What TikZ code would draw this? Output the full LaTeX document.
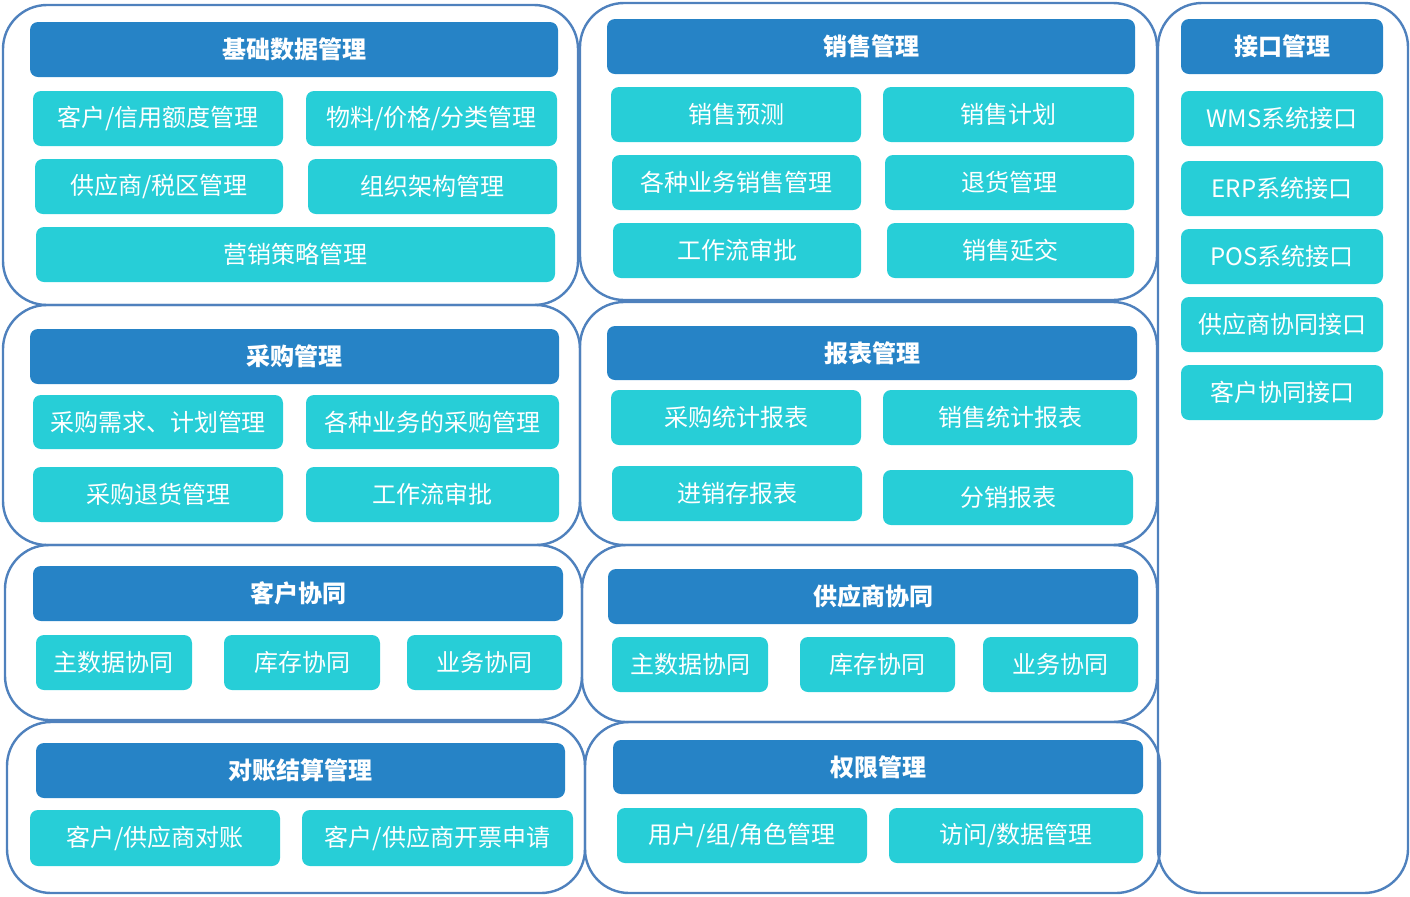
\documentclass[tikz,border=0pt]{standalone}
\usepackage{fontspec}
\setmainfont{Noto Sans CJK SC}
\usepackage{xcolor}
\usepackage{tikz}

\definecolor{frameblue}{HTML}{4F81BD}
\definecolor{headblue}{HTML}{2683C6}
\definecolor{itemcyan}{HTML}{27CED7}

\begin{document}
\begin{tikzpicture}[
  x=0.5pt, y=-0.5pt,
  sz/.style 2 args={minimum width=#1*0.5pt, minimum height=#2*0.5pt},
  panel/.style={draw=frameblue, line width=1.2pt, rounded corners=22pt, inner sep=0pt},
  head/.style={fill=headblue, rounded corners=4pt, text=white, font=\fontsize{12}{14}\selectfont\bfseries, inner sep=0pt},
  item/.style={fill=itemcyan, rounded corners=4pt, text=white, font=\fontsize{12}{14}\selectfont, inner sep=0pt}
]
\useasboundingbox (0,0) rectangle (1410,896);

% outer frames
\node[panel, sz={575}{300}] (base) at (290.5,155) {};
\node[panel, sz={577}{297}] (sale) at (868.5,151.5) {};
\node[panel, sz={250}{890}] (intf) at (1283,448) {};
\node[panel, sz={577}{240}] (purch) at (291.5,425) {};
\node[panel, sz={577}{243}] (report) at (868.5,423.5) {};
\node[panel, sz={577}{175}] (cust) at (293.5,632.5) {};
\node[panel, sz={575}{177}] (supp) at (869.5,633.5) {};
\node[panel, sz={578}{171}] (settle) at (296,807.5) {};
\node[panel, sz={575}{171}] (perm) at (872.5,807.5) {};

% 基础数据管理
\node[head, sz={528}{55}] (basehd) at (294,49.5) {基础数据管理};
\node[item, sz={250}{55}] (base1) at (158,118.5) {客户/信用额度管理};
\node[item, sz={251}{55}] (base2) at (431.5,118.5) {物料/价格/分类管理};
\node[item, sz={248}{55}] (base3) at (159,186.5) {供应商/税区管理};
\node[item, sz={249}{55}] (base4) at (432.5,186.5) {组织架构管理};
\node[item, sz={519}{55}] (base5) at (295.5,254.5) {营销策略管理};

% 销售管理
\node[head, sz={528}{55}] (salehd) at (871,46.5) {销售管理};
\node[item, sz={250}{55}] (sale1) at (736,114.5) {销售预测};
\node[item, sz={251}{55}] (sale2) at (1008.5,114.5) {销售计划};
\node[item, sz={249}{55}] (sale3) at (736.5,182.5) {各种业务销售管理};
\node[item, sz={249}{55}] (sale4) at (1009.5,182.5) {退货管理};
\node[item, sz={248}{55}] (sale5) at (737,250.5) {工作流审批};
\node[item, sz={247}{55}] (sale6) at (1010.5,250.5) {销售延交};

% 接口管理
\node[head, sz={202}{55}] (intfhd) at (1282,46.5) {接口管理};
\node[item, sz={202}{55}] (intf1) at (1282,118.5) {WMS系统接口};
\node[item, sz={202}{55}] (intf2) at (1282,188.5) {ERP系统接口};
\node[item, sz={202}{55}] (intf3) at (1282,256.5) {POS系统接口};
\node[item, sz={202}{55}] (intf4) at (1282,324.5) {供应商协同接口};
\node[item, sz={202}{55}] (intf5) at (1282,392.5) {客户协同接口};

% 采购管理
\node[head, sz={529}{55}] (purchhd) at (294.5,356.5) {采购管理};
\node[item, sz={250}{54}] (purch1) at (158,422) {采购需求、计划管理};
\node[item, sz={253}{54}] (purch2) at (432.5,422) {各种业务的采购管理};
\node[item, sz={250}{55}] (purch3) at (158,494.5) {采购退货管理};
\node[item, sz={253}{55}] (purch4) at (432.5,494.5) {工作流审批};

% 报表管理
\node[head, sz={530}{54}] (reporthd) at (872,353) {报表管理};
\node[item, sz={250}{55}] (report1) at (736,417.5) {采购统计报表};
\node[item, sz={254}{55}] (report2) at (1010,417.5) {销售统计报表};
\node[item, sz={250}{55}] (report3) at (737,493.5) {进销存报表};
\node[item, sz={250}{55}] (report4) at (1008,497.5) {分销报表};

% 客户协同
\node[head, sz={530}{55}] (custhd) at (298,593.5) {客户协同};
\node[item, sz={156}{55}] (cust1) at (114,662.5) {主数据协同};
\node[item, sz={156}{55}] (cust2) at (302,662.5) {库存协同};
\node[item, sz={155}{55}] (cust3) at (484.5,662.5) {业务协同};

% 供应商协同
\node[head, sz={530}{55}] (supphd) at (873,596.5) {供应商协同};
\node[item, sz={156}{55}] (supp1) at (690,664.5) {主数据协同};
\node[item, sz={155}{55}] (supp2) at (877.5,664.5) {库存协同};
\node[item, sz={155}{55}] (supp3) at (1060.5,664.5) {业务协同};

% 对账结算管理
\node[head, sz={529}{55}] (settlehd) at (300.5,770.5) {对账结算管理};
\node[item, sz={250}{56}] (settle1) at (155,838) {客户/供应商对账};
\node[item, sz={271}{56}] (settle2) at (437.5,838) {客户/供应商开票申请};

% 权限管理
\node[head, sz={530}{54}] (permhd) at (878,767) {权限管理};
\node[item, sz={250}{55}] (perm1) at (742,835.5) {用户/组/角色管理};
\node[item, sz={254}{55}] (perm2) at (1016,835.5) {访问/数据管理};
\end{tikzpicture}
\end{document}
